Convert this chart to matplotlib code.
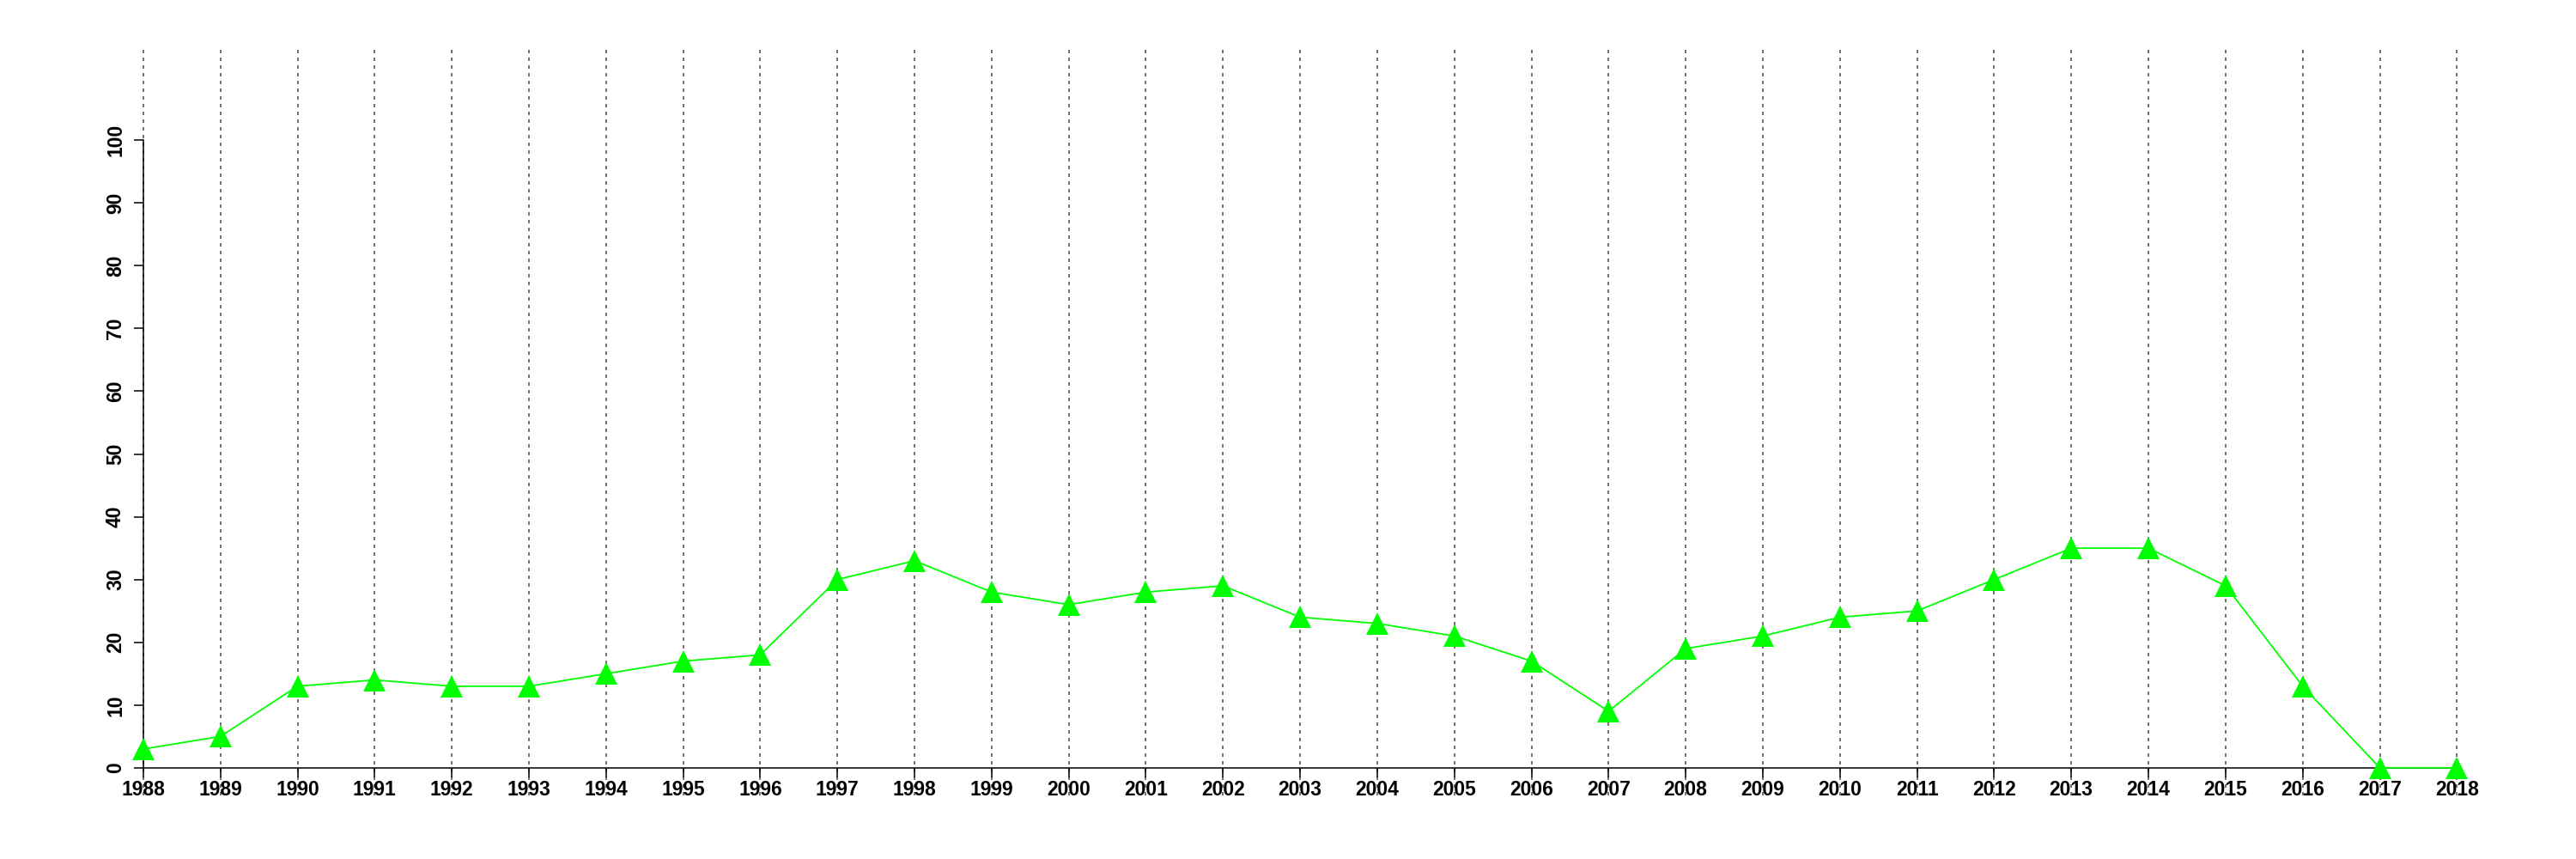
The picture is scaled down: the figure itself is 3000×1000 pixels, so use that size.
import matplotlib
matplotlib.use("Agg")
import matplotlib.pyplot as plt

years = list(range(1988, 2019))
values = [3, 5, 13, 14, 13, 13, 15, 17, 18, 30, 33, 28, 26, 28, 29, 24, 23, 21, 17, 9,
          19, 21, 24, 25, 30, 35, 35, 29, 13, 0, 0]
yticks = [0, 10, 20, 30, 40, 50, 60, 70, 80, 90, 100]

plt.rcParams['font.family'] = ['Liberation Sans', 'DejaVu Sans']
fig = plt.figure(figsize=(30, 10), dpi=100)
ax = fig.add_axes([0.0197, 0.074, 0.9700, 0.868])

for s in ['top', 'right']:
    ax.spines[s].set_visible(False)
ax.spines['left'].set_position(('data', 1988))
ax.spines['bottom'].set_position(('data', 0))

ax.plot(years, values, color='#00ff00', lw=1.3, marker='^', markersize=19,
        markeredgewidth=0, zorder=3, clip_on=False)

ax.set_xlim(1986.8, 2019.2)
ax.set_ylim(-4.4, 114.4)
ax.spines['left'].set_bounds(0, 100)
ax.spines['bottom'].set_bounds(1988, 2018)
ax.spines['left'].set_linewidth(1.1)
ax.spines['bottom'].set_linewidth(1.1)

ax.set_xticks(years)
ax.set_xticklabels([str(y) for y in years], fontsize=16.5, fontweight='bold')
ax.set_yticks(yticks)
ax.set_yticklabels([str(v) for v in yticks], fontsize=16.5, fontweight='bold',
                   rotation=90, va='center')
ax.xaxis.grid(True, color='#747474', linestyle=(0, (2.0, 2.5)), lw=1.44)
ax.set_axisbelow(True)

ax.tick_params(axis='both', direction='out', length=8, width=1.1)
ax.tick_params(axis='x', pad=2)
ax.tick_params(axis='y', pad=7)

fig.savefig('out.png', dpi=100)
